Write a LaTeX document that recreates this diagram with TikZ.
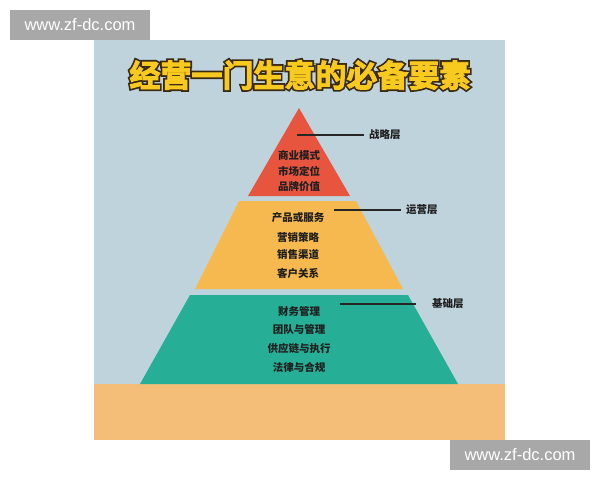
\documentclass[tikz,border=0pt]{standalone}
\usepackage{fontspec}
\setmainfont{Noto Sans CJK SC}
\newfontfamily\wmfont{Liberation Sans}
\newfontfamily\edgefont{Noto Sans CJK SC}[UprightFont={* Bold}, FakeBold=14]
\newfontfamily\facefont{Noto Sans CJK SC}[UprightFont={* Bold}, FakeBold=3]
\definecolor{panelblue}{HTML}{BFD3DD}
\definecolor{bandsand}{HTML}{F5BE78}
\definecolor{baseteal}{HTML}{26AE96}
\definecolor{opsamber}{HTML}{F6B94F}
\definecolor{topred}{HTML}{E8553F}
\definecolor{titlefill}{HTML}{F8C91E}
\definecolor{titleedge}{HTML}{3A2A14}
\definecolor{wmgray}{HTML}{A8A8A8}
\tikzset{
  item/.style={font=\bfseries\fontsize{10.5}{12}\selectfont, text=black!88, inner sep=1pt},
  tag/.style={font=\bfseries\fontsize{10.5}{12}\selectfont, text=black!88, anchor=west, inner sep=5pt},
  lead/.style={line width=1.3pt, black!85},
  headline/.style={font=\facefont\fontsize{31}{34}\selectfont, inner sep=0pt, text=titlefill},
  headedge/.style={font=\edgefont\fontsize{31}{34}\selectfont, inner sep=0pt, text=titleedge},
  wm/.style={fill=wmgray, text=white, font=\wmfont\fontsize{16.5}{18}\selectfont,
    minimum width=140pt, minimum height=30pt, inner sep=0pt}
}
\begin{document}
\begin{tikzpicture}[x=1pt,y=-1pt]
\useasboundingbox (0,0) rectangle (600,480);

% 底色与面板
\fill[white] (0,0) rectangle (600,480);
\fill[panelblue] (94,40) rectangle (505,440);
\fill[bandsand] (94,384) rectangle (505,440);

% 标题 (加粗深色底 + 黄色字)
\node[headedge] (edge) at (300,75) {经营一门生意的必备要素};
\node[headline] (title) at (300,75) {经营一门生意的必备要素};

% 金字塔三层
\fill[baseteal] (190,295) -- (408,295) -- (458,384) -- (140,384) -- cycle; % 基础层
\fill[opsamber] (239,201) -- (356,201) -- (403,289) -- (195,289) -- cycle; % 运营层
\fill[topred] (299,108) -- (350,196) -- (248,196) -- cycle;                % 战略层

% 战略层文字
\node[item] (s1) at (299,155) {商业模式};
\node[item] (s2) at (299,171) {市场定位};
\node[item] (s3) at (299,187) {品牌价值};

% 运营层文字
\node[item] (o1) at (298,218) {产品或服务};
\node[item] (o2) at (298,237) {营销策略};
\node[item] (o3) at (298,255) {销售渠道};
\node[item] (o4) at (298,273) {客户关系};

% 基础层文字
\node[item] (b1) at (299,311) {财务管理};
\node[item] (b2) at (299,329) {团队与管理};
\node[item] (b3) at (299,348) {供应链与执行};
\node[item] (b4) at (299,367) {法律与合规};

% 引线与层名
\coordinate (sa) at (297,135);
\node[tag] (sl) at (364,135) {战略层};
\draw[lead] (sa) -- (sl.west);

\coordinate (oa) at (334,210);
\node[tag] (ol) at (401,210) {运营层};
\draw[lead] (oa) -- (ol.west);

\coordinate (ba) at (340,304);
\node[tag, inner sep=8pt] (bl) at (424,304) {基础层};
\draw[lead] (ba) -- ([xshift=-8pt]bl.west);

% 水印
\node[wm] (wm1) at (80,25) {www.zf-dc.com};
\node[wm] (wm2) at (520,455) {www.zf-dc.com};
\end{tikzpicture}
\end{document}
